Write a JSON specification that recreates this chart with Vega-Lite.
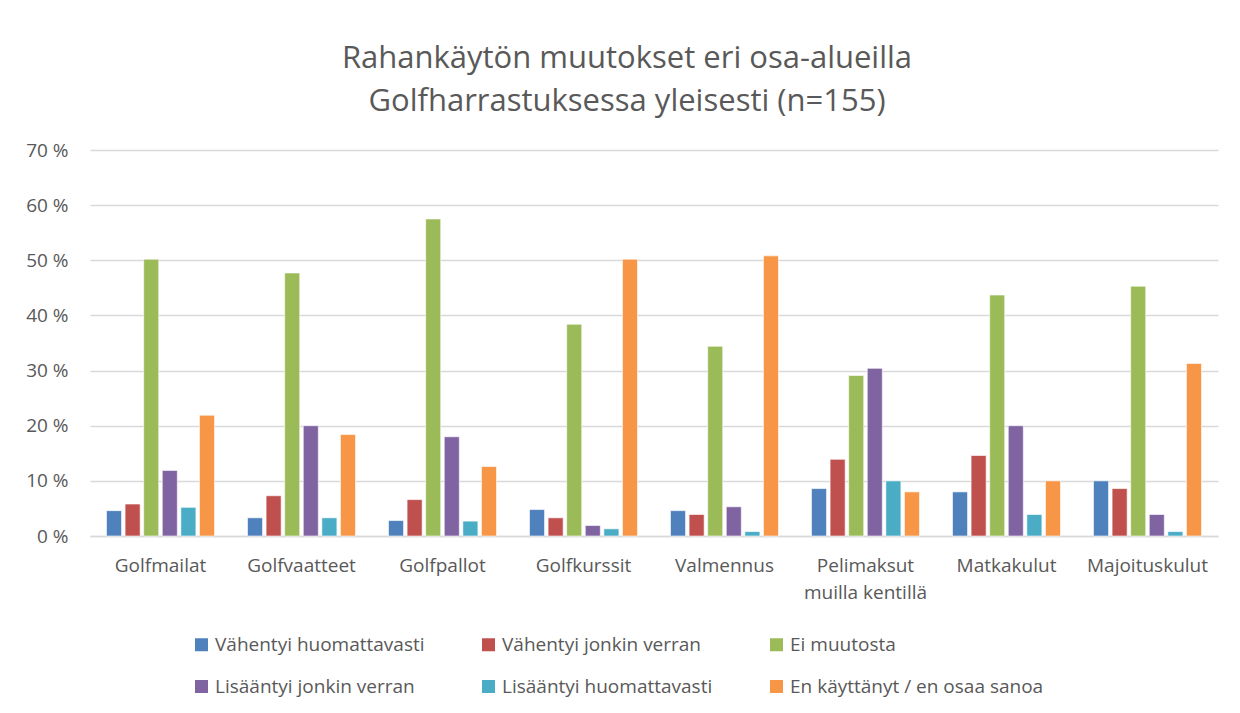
{
  "$schema": "https://vega.github.io/schema/vega-lite/v6.json",
  "autosize": "none",
  "width": 1128,
  "height": 386,
  "padding": {"left": 90, "top": 150, "right": 22, "bottom": 177},
  "background": "white",
  "title": {
    "text": ["Rahankäytön muutokset eri osa-alueilla", "Golfharrastuksessa yleisesti (n=155)"],
    "fontSize": 31,
    "fontWeight": "normal",
    "font": "Open Sans",
    "color": "#595959",
    "lineHeight": 43,
    "anchor": "middle",
    "dx": -27,
    "offset": 23
  },
  "data": {
    "values": [
      {"k": "Golfmailat", "s": "Vähentyi huomattavasti", "v": 4.6},
      {"k": "Golfmailat", "s": "Vähentyi jonkin verran", "v": 5.8},
      {"k": "Golfmailat", "s": "Ei muutosta", "v": 50.2},
      {"k": "Golfmailat", "s": "Lisääntyi jonkin verran", "v": 11.9},
      {"k": "Golfmailat", "s": "Lisääntyi huomattavasti", "v": 5.2},
      {"k": "Golfmailat", "s": "En käyttänyt / en osaa sanoa", "v": 21.9},
      {"k": "Golfvaatteet", "s": "Vähentyi huomattavasti", "v": 3.3},
      {"k": "Golfvaatteet", "s": "Vähentyi jonkin verran", "v": 7.3},
      {"k": "Golfvaatteet", "s": "Ei muutosta", "v": 47.7},
      {"k": "Golfvaatteet", "s": "Lisääntyi jonkin verran", "v": 20.0},
      {"k": "Golfvaatteet", "s": "Lisääntyi huomattavasti", "v": 3.3},
      {"k": "Golfvaatteet", "s": "En käyttänyt / en osaa sanoa", "v": 18.4},
      {"k": "Golfpallot", "s": "Vähentyi huomattavasti", "v": 2.8},
      {"k": "Golfpallot", "s": "Vähentyi jonkin verran", "v": 6.6},
      {"k": "Golfpallot", "s": "Ei muutosta", "v": 57.5},
      {"k": "Golfpallot", "s": "Lisääntyi jonkin verran", "v": 18.0},
      {"k": "Golfpallot", "s": "Lisääntyi huomattavasti", "v": 2.7},
      {"k": "Golfpallot", "s": "En käyttänyt / en osaa sanoa", "v": 12.6},
      {"k": "Golfkurssit", "s": "Vähentyi huomattavasti", "v": 4.8},
      {"k": "Golfkurssit", "s": "Vähentyi jonkin verran", "v": 3.3},
      {"k": "Golfkurssit", "s": "Ei muutosta", "v": 38.4},
      {"k": "Golfkurssit", "s": "Lisääntyi jonkin verran", "v": 1.9},
      {"k": "Golfkurssit", "s": "Lisääntyi huomattavasti", "v": 1.3},
      {"k": "Golfkurssit", "s": "En käyttänyt / en osaa sanoa", "v": 50.2},
      {"k": "Valmennus", "s": "Vähentyi huomattavasti", "v": 4.6},
      {"k": "Valmennus", "s": "Vähentyi jonkin verran", "v": 3.9},
      {"k": "Valmennus", "s": "Ei muutosta", "v": 34.4},
      {"k": "Valmennus", "s": "Lisääntyi jonkin verran", "v": 5.3},
      {"k": "Valmennus", "s": "Lisääntyi huomattavasti", "v": 0.8},
      {"k": "Valmennus", "s": "En käyttänyt / en osaa sanoa", "v": 50.8},
      {"k": "Pelimaksut muilla kentillä", "s": "Vähentyi huomattavasti", "v": 8.6},
      {"k": "Pelimaksut muilla kentillä", "s": "Vähentyi jonkin verran", "v": 13.9},
      {"k": "Pelimaksut muilla kentillä", "s": "Ei muutosta", "v": 29.1},
      {"k": "Pelimaksut muilla kentillä", "s": "Lisääntyi jonkin verran", "v": 30.4},
      {"k": "Pelimaksut muilla kentillä", "s": "Lisääntyi huomattavasti", "v": 10.0},
      {"k": "Pelimaksut muilla kentillä", "s": "En käyttänyt / en osaa sanoa", "v": 8.0},
      {"k": "Matkakulut", "s": "Vähentyi huomattavasti", "v": 8.0},
      {"k": "Matkakulut", "s": "Vähentyi jonkin verran", "v": 14.6},
      {"k": "Matkakulut", "s": "Ei muutosta", "v": 43.7},
      {"k": "Matkakulut", "s": "Lisääntyi jonkin verran", "v": 20.0},
      {"k": "Matkakulut", "s": "Lisääntyi huomattavasti", "v": 3.9},
      {"k": "Matkakulut", "s": "En käyttänyt / en osaa sanoa", "v": 10.0},
      {"k": "Majoituskulut", "s": "Vähentyi huomattavasti", "v": 10.0},
      {"k": "Majoituskulut", "s": "Vähentyi jonkin verran", "v": 8.6},
      {"k": "Majoituskulut", "s": "Ei muutosta", "v": 45.3},
      {"k": "Majoituskulut", "s": "Lisääntyi jonkin verran", "v": 3.9},
      {"k": "Majoituskulut", "s": "Lisääntyi huomattavasti", "v": 0.8},
      {"k": "Majoituskulut", "s": "En käyttänyt / en osaa sanoa", "v": 31.3}
    ]
  },
  "mark": {"type": "bar", "stroke": "white", "strokeOpacity": 0.6, "strokeWidth": 1},
  "encoding": {
    "x": {
      "field": "k",
      "type": "nominal",
      "sort": null,
      "scale": {"paddingInner": 0.234, "paddingOuter": 0.117},
      "axis": {
        "title": null,
        "labelAngle": 0,
        "labelFont": "Open Sans",
        "labelFontSize": 19,
        "labelColor": "#595959",
        "labelPadding": 20,
        "labelLineHeight": 27,
        "ticks": false,
        "domainColor": "#d9d9d9",
        "domainWidth": 1.5,
        "labelExpr": "datum.label == 'Pelimaksut muilla kentillä' ? ['Pelimaksut', 'muilla kentillä'] : datum.label"
      }
    },
    "xOffset": {
      "field": "s",
      "type": "nominal",
      "sort": null,
      "scale": {"paddingInner": 0.19}
    },
    "y": {
      "field": "v",
      "type": "quantitative",
      "scale": {"domain": [0, 70]},
      "axis": {
        "title": null,
        "values": [0, 10, 20, 30, 40, 50, 60, 70],
        "labelExpr": "datum.value + ' %'",
        "labelFont": "Open Sans",
        "labelFontSize": 19,
        "labelColor": "#595959",
        "labelPadding": 22,
        "ticks": false,
        "domain": false,
        "gridColor": "#d9d9d9",
        "gridWidth": 1.5
      }
    },
    "color": {
      "field": "s",
      "type": "nominal",
      "sort": null,
      "scale": {
        "domain": ["Vähentyi huomattavasti", "Vähentyi jonkin verran", "Ei muutosta", "Lisääntyi jonkin verran", "Lisääntyi huomattavasti", "En käyttänyt / en osaa sanoa"],
        "range": ["#4F81BD", "#C0504D", "#9BBB59", "#8064A2", "#4BACC6", "#F79646"]
      },
      "legend": {
        "title": null,
        "orient": "none",
        "legendX": 102,
        "legendY": 485,
        "direction": "horizontal",
        "columns": 3,
        "columnPadding": 54,
        "rowPadding": 22,
        "symbolType": "square",
        "symbolSize": 169,
        "symbolStrokeWidth": 0,
        "labelOffset": 4,
        "labelFont": "Open Sans",
        "labelFontSize": 19,
        "labelColor": "#595959",
        "labelLimit": 400
      }
    }
  },
  "config": {
    "view": {"stroke": null}
  }
}
